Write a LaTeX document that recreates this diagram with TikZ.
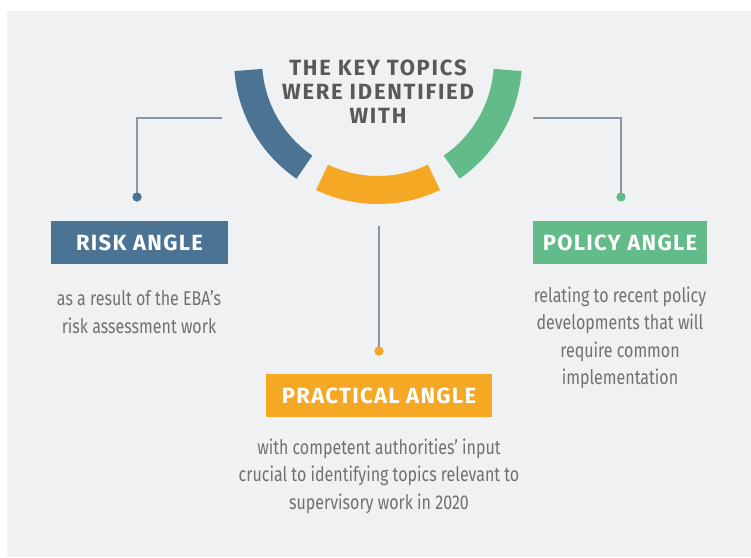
\documentclass[tikz,border=0pt]{standalone}
\usepackage{fontspec}
\usetikzlibrary{calc}
\setmainfont{Fira Sans}
\newfontfamily\headfont[LetterSpace=8]{Fira Sans}
\newfontfamily\labfont[LetterSpace=6]{Fira Sans}
\newfontfamily\descfont[FakeStretch=0.8]{Fira Sans}
\definecolor{bgc}{HTML}{F0F1F3}
\definecolor{riskc}{HTML}{4A7394}
\definecolor{polc}{HTML}{62BB89}
\definecolor{pracc}{HTML}{F5A823}
\definecolor{titlec}{HTML}{58595B}
\definecolor{descc}{HTML}{707174}
\definecolor{linec}{HTML}{8C96A0}
\tikzset{
  labelbox/.style={inner sep=0pt, minimum height=43pt, text=white, font=\labfont\bfseries\fontsize{22}{22}\selectfont},
  desc/.style={align=center, text=descc, font=\descfont\fontsize{20}{27.5}\selectfont, inner sep=0pt},
  dotn/.style={circle, inner sep=0pt, minimum size=9pt},
  conn/.style={draw=linec, line width=2pt},
}
\begin{document}
\begin{tikzpicture}[x=1pt,y=-1pt]
\useasboundingbox (0,0) rectangle (751,557);
\fill[white] (0,0) rectangle (751,557);
\fill[bgc] (7,11) rectangle (751,557);
\coordinate (c) at (378,60);
% arc segments
\fill[riskc] ($(c)+(175.6:144)$) arc[start angle=175.6, end angle=124.5, radius=144]
  -- ($(c)+(124.5:116)$) arc[start angle=124.5, end angle=175.6, radius=116] -- cycle;
\fill[pracc] ($(c)+(115.5:144)$) arc[start angle=115.5, end angle=64.5, radius=144]
  -- ($(c)+(64.5:116)$) arc[start angle=64.5, end angle=115.5, radius=116] -- cycle;
\fill[polc] ($(c)+(55.5:144)$) arc[start angle=55.5, end angle=4.4, radius=144]
  -- ($(c)+(4.4:116)$) arc[start angle=4.4, end angle=55.5, radius=116] -- cycle;
\node[align=center, text=titlec, font=\headfont\bfseries\fontsize{22}{24}\selectfont, inner sep=0pt] (title) at (378,92) {THE KEY TOPICS\\WERE IDENTIFIED\\WITH};
% label boxes
\node[labelbox, fill=riskc, minimum width=177pt] (risk) at (139.5,242.5) {RISK ANGLE};
\node[labelbox, fill=polc, minimum width=174pt] (policy) at (620,242.5) {POLICY ANGLE};
\node[labelbox, fill=pracc, minimum width=226pt] (prac) at (379,395.5) {PRACTICAL ANGLE};
% dots and connectors
\node[dotn, fill=riskc] (d1) at (137,197) {};
\node[dotn, fill=pracc] (d2) at (379,351) {};
\node[dotn, fill=polc] (d3) at (621,197) {};
\coordinate (s1) at (222,118);
\coordinate (s2) at (379,226);
\coordinate (s3) at (533,118);
\draw[conn] (s1) -| (d1.center);
\draw[conn] (s2) -- (d2.center);
\draw[conn] (s3) -| (d3.center);
\node[dotn, fill=riskc] at (d1) {};
\node[dotn, fill=pracc] at (d2) {};
\node[dotn, fill=polc] at (d3) {};
% descriptions
\node[desc] (t1) at (139,312) {as a result of the EBA’s\\risk assessment work};
\node[desc] (t2) at (379,476) {with competent authorities’ input\\crucial to identifying topics relevant to\\supervisory work in 2020};
\node[desc] (t3) at (620,338) {relating to recent policy\\developments that will\\require common\\implementation};
\end{tikzpicture}
\end{document}
